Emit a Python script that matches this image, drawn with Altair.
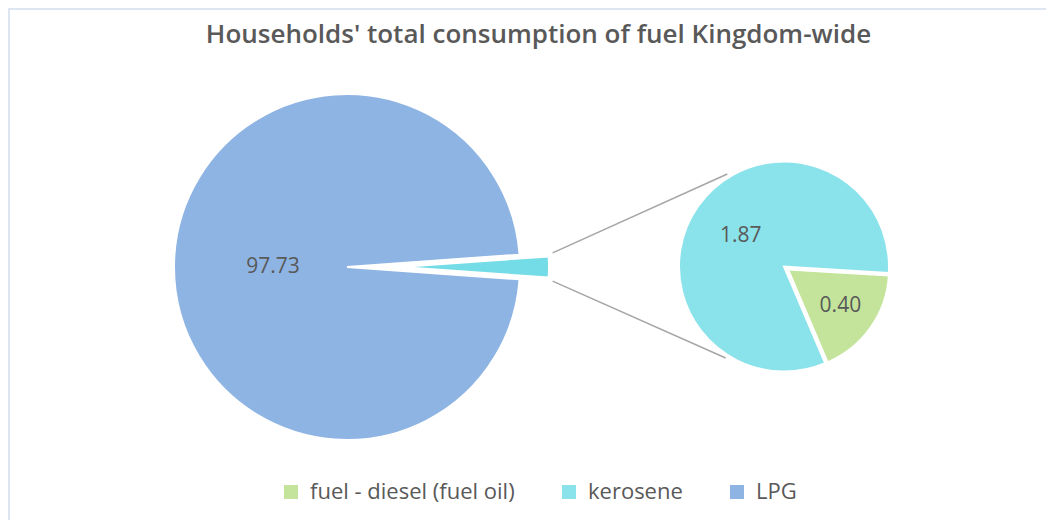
import math
import altair as alt
import pandas as pd

TITLE = "Households' total consumption of fuel Kingdom-wide"
fuels = ["fuel - diesel (fuel oil)", "kerosene", "LPG"]
consumption = [0.40, 1.87, 97.73]
fuel_colors = ["#C3E49A", "#8AE2EA", "#8EB4E3"]
OTHER = "Other"
other_color = "#74DCE6"

TEXT_COLOR = "#595959"
FONT = "Open Sans"

# layout (view coordinates; the page adds 8px)
W, H = 1038, 512
C1 = (339.0, 259.0); R1 = 173
OTHER_SHIFT = 53; R1_OTHER = 149
C2 = (776.0, 258.5); R2 = 105
DIESEL_SHIFT = 5; R2_DIESEL = 101
START2 = math.radians(93.5)
LABEL_R_MAIN, LABEL_R_KERO, LABEL_R_DIESEL = 74, 53, 64

# main pie data: split "Other" (diesel + kerosene) vs LPG
main_df = pd.DataFrame({
    "fuel": [OTHER, fuels[2]],
    "value": [consumption[0] + consumption[1], consumption[2]],
    "order": [0, 1],
})
other_frac = main_df["value"][0] / main_df["value"].sum()
START1 = math.pi / 2 - other_frac * math.pi

sec_df = pd.DataFrame({
    "fuel": [fuels[0], fuels[1]],
    "value": [consumption[0], consumption[1]],
    "order": [0, 1],
})
diesel_frac = consumption[0] / (consumption[0] + consumption[1])
diesel_mid = START2 + diesel_frac * math.pi
C2D = (C2[0] + DIESEL_SHIFT * math.sin(diesel_mid), C2[1] - DIESEL_SHIFT * math.cos(diesel_mid))
C1O = (C1[0] + OTHER_SHIFT, C1[1])

color_scale = alt.Scale(domain=fuels + [OTHER], range=fuel_colors + [other_color])
legend = alt.Legend(
    title=None, orient="none", legendX=272, legendY=473, direction="horizontal",
    values=fuels, symbolType="square", symbolSize=196, symbolStrokeWidth=0,
    symbolOpacity=1, labelFontSize=22, labelColor=TEXT_COLOR, labelFont=FONT,
    columnPadding=43, labelOffset=8, labelLimit=400, padding=0,
)


def arc_layer(df, start, c, r, show):
    return alt.Chart(df).mark_arc(stroke="white", strokeWidth=2).encode(
        theta=alt.Theta("value:Q", stack=True,
                        scale=alt.Scale(range=[start, start + 2 * math.pi])),
        order=alt.Order("order:Q"),
        color=alt.Color("fuel:N", scale=color_scale, legend=legend),
        opacity=alt.condition(alt.datum.fuel == show, alt.value(1), alt.value(0)),
        x=alt.value(c[0]), y=alt.value(c[1]), radius=alt.value(r),
    )


def label_layer(df, start, c, r, show):
    return alt.Chart(df).mark_text(
        fontSize=21, font=FONT, color=TEXT_COLOR, align="center", baseline="middle"
    ).encode(
        theta=alt.Theta("value:Q", stack=True,
                        scale=alt.Scale(range=[start, start + 2 * math.pi])),
        order=alt.Order("order:Q"),
        text=alt.Text("value:Q", format=".2f"),
        opacity=alt.condition(alt.datum.fuel == show, alt.value(1), alt.value(0)),
        x=alt.value(c[0]), y=alt.value(c[1]), radius=alt.value(r),
    )


# connector lines from the exploded slice to the secondary pie
half = other_frac * math.pi
corner_top = (C1O[0] + R1_OTHER * math.sin(math.pi / 2 - half), C1O[1] - R1_OTHER * math.cos(math.pi / 2 - half))
corner_bot = (C1O[0] + R1_OTHER * math.sin(math.pi / 2 + half), C1O[1] - R1_OTHER * math.cos(math.pi / 2 + half))
end_r = R2 + 3.5
a_top, a_bot = math.radians(328.5), math.radians(212.5)
lines_df = pd.DataFrame({
    "x": [corner_top[0] + 4, corner_bot[0] + 4],
    "y": [corner_top[1] - 3.5, corner_bot[1] + 3.5],
    "x2": [C2[0] + end_r * math.sin(a_top), C2[0] + end_r * math.sin(a_bot)],
    "y2": [C2[1] - end_r * math.cos(a_top), C2[1] - end_r * math.cos(a_bot)],
})
lines = alt.Chart(lines_df).mark_rule(color="#A6A6A6", strokeWidth=1.5).encode(
    x=alt.X("x:Q", scale=None, axis=None), y=alt.Y("y:Q", scale=None, axis=None),
    x2="x2:Q", y2="y2:Q",
)

border_df = pd.DataFrame({"x": [1, 0], "y": [0, 1], "x2": [1, W], "y2": [H, 1]})
border = alt.Chart(border_df).mark_rule(color="#DDE5F0", strokeWidth=2).encode(
    x=alt.X("x:Q", scale=None, axis=None), y=alt.Y("y:Q", scale=None, axis=None),
    x2="x2:Q", y2="y2:Q",
)

title = alt.Chart(pd.DataFrame({"t": [TITLE]})).mark_text(
    fontSize=26, font=FONT, fontWeight=600, color=TEXT_COLOR, align="center",
    baseline="alphabetic",
).encode(text="t:N", x=alt.value(530.5), y=alt.value(35))

chart = alt.layer(
    border,
    title,
    lines,
    arc_layer(main_df, START1, C1, R1, fuels[2]),
    arc_layer(main_df, START1, C1O, R1_OTHER, OTHER),
    arc_layer(sec_df, START2, C2, R2, fuels[1]),
    arc_layer(sec_df, START2, C2D, R2_DIESEL, fuels[0]),
    label_layer(main_df, START1, C1, LABEL_R_MAIN, fuels[2]),
    label_layer(sec_df, START2, C2, LABEL_R_KERO, fuels[1]),
    label_layer(sec_df, START2, C2D, LABEL_R_DIESEL, fuels[0]),
).resolve_scale(theta="independent").properties(
    width=W, height=H, padding=0, autosize=alt.AutoSizeParams(type="none"),
).configure_view(stroke=None)

chart.save("out.html", embed_options={"renderer": "svg", "actions": False})
